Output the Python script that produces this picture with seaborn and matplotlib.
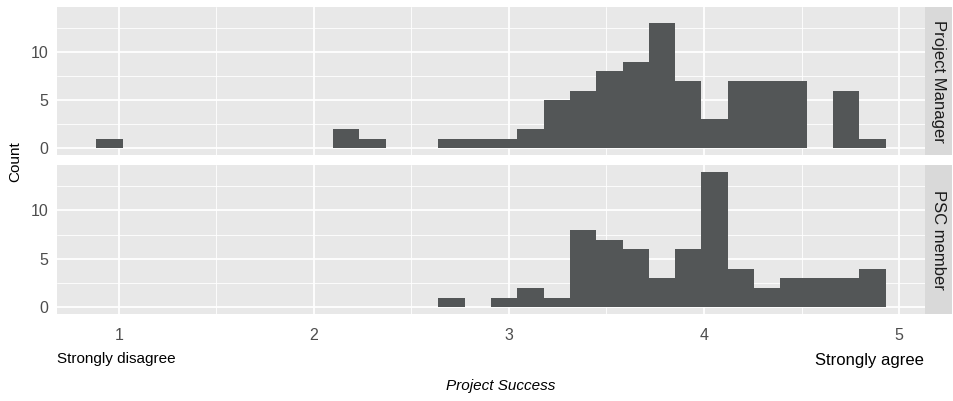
import numpy as np
import pandas as pd
import seaborn as sns
import matplotlib.pyplot as plt
from matplotlib.ticker import MultipleLocator

# Histogram bins (30 bins over the observed score range)
score_min = 0.953
score_max = 4.863
n_bins = 30

roles = ["Project Manager", "PSC member"]

pm_counts = [1, 0, 0, 0, 0, 0, 0, 0, 0, 2,
             1, 0, 0, 1, 1, 1, 2, 5, 6, 8,
             9, 13, 7, 3, 7, 7, 7, 0, 6, 1]
psc_counts = [0, 0, 0, 0, 0, 0, 0, 0, 0, 0,
              0, 0, 0, 1, 0, 1, 2, 1, 8, 7,
              6, 3, 6, 14, 4, 2, 3, 3, 3, 4]

x_ticks = [1, 2, 3, 4, 5]
y_ticks = [0, 5, 10]

bin_w = (score_max - score_min) / (n_bins - 1)
centers = score_min + bin_w * np.arange(n_bins)
edges = [float(e) for e in np.append(centers - bin_w / 2, centers[-1] + bin_w / 2)]

df = pd.concat([
    pd.DataFrame({"score": centers, "n": pm_counts, "role": roles[0]}),
    pd.DataFrame({"score": centers, "n": psc_counts, "role": roles[1]}),
])

sns.set_theme(style="darkgrid")
plt.rcParams["font.family"] = ["Liberation Sans", "DejaVu Sans"]

W, H = 954, 401
fig = plt.figure(figsize=(W / 100, H / 100), dpi=100)

left, right = 57 / W, 925 / W
strip_r = 952 / W
panels = [(7, 155), (165, 314)]

x_lo = edges[0] - 0.05 * (edges[-1] - edges[0])
x_hi = edges[-1] + 0.05 * (edges[-1] - edges[0])
ymax = max(max(pm_counts), max(psc_counts))

for i, (role, (top, bot)) in enumerate(zip(roles, panels)):
    ax = fig.add_axes([left, 1 - bot / H, right - left, (bot - top) / H])
    sub = df[df["role"] == role]
    sns.histplot(data=sub, x="score", weights="n", bins=edges, ax=ax,
                 color="#535657", alpha=1, edgecolor="none", linewidth=0)
    ax.set_facecolor("#E8E8E8")
    ax.set_xlim(x_lo, x_hi)
    ax.set_ylim(-0.05 * ymax, ymax * 1.05)
    ax.set_xticks(x_ticks)
    ax.set_yticks(y_ticks)
    ax.xaxis.set_minor_locator(MultipleLocator(0.5))
    ax.yaxis.set_minor_locator(MultipleLocator(2.5))
    ax.grid(which="major", color="white", linewidth=1.3)
    ax.grid(which="minor", color="white", linewidth=0.6)
    ax.set_axisbelow(True)
    for s in ax.spines.values():
        s.set_visible(False)
    ax.tick_params(axis="y", which="major", length=4, width=0.8,
                   color="#333333", labelcolor="#4D4D4D", labelsize=11.5, pad=2)
    ax.tick_params(axis="x", which="major", length=4, width=0.8,
                   color="#333333", labelcolor="#4D4D4D", labelsize=11.5, pad=6)
    ax.tick_params(axis="both", which="minor", length=0)
    ax.set_xlabel("")
    ax.set_ylabel("")
    if i == 0:
        ax.tick_params(axis="x", which="major", labelbottom=False, length=0)
    # facet strip
    sax = fig.add_axes([right, 1 - bot / H, strip_r - right, (bot - top) / H])
    sax.set_facecolor("#D9D9D9")
    sax.set_xticks([])
    sax.set_yticks([])
    for s in sax.spines.values():
        s.set_visible(False)
    sax.text(0.5, 0.5, role, rotation=-90, ha="center", va="center",
             fontsize=12, color="#1A1A1A", transform=sax.transAxes)

fig.text(15 / W, 1 - 162 / H, "Count", rotation=90, ha="center", va="center",
         fontsize=11, color="black")
fig.text(116 / W, 1 - 359 / H, "Strongly disagree", ha="center", va="center",
         fontsize=11, color="black")
fig.text(869 / W, 1 - 361 / H, "Strongly agree", ha="center", va="center",
         fontsize=12, color="black")
fig.text(501 / W, 1 - 386 / H, "Project Success", ha="center", va="center",
         fontsize=11, style="italic", color="black")

fig.savefig("out.png", dpi=100, facecolor="white")
